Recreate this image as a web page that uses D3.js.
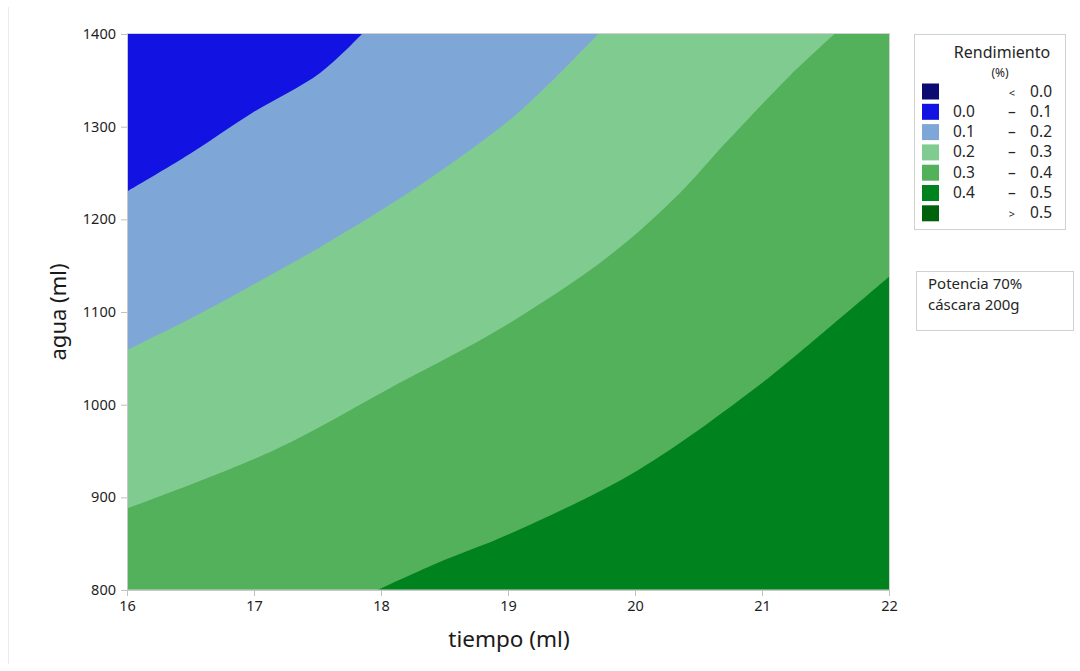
<!DOCTYPE html>
<html>
<head>
<meta charset="utf-8">
<script src="https://cdn.jsdelivr.net/npm/d3@7"></script>
<style>
  html, body { margin: 0; padding: 0; background: #fff; }
  svg { display: block; font-family: "Noto Sans", "Open Sans", sans-serif; }
</style>
</head>
<body>
<svg id="chart" width="1080" height="671"></svg>
<script>
// ---- Data ----
const xTicks = [16, 17, 18, 19, 20, 21, 22];
const yTicks = [800, 900, 1000, 1100, 1200, 1300, 1400];

// Contour boundaries (tiempo, agua)
const c00_tiempo = [16.00, 16.50, 17.00, 17.52, 17.85];
const c00_agua   = [1230, 1271, 1316, 1358, 1400];

const c01_tiempo = [16.00, 16.50, 17.00, 17.52, 18.05, 18.57, 19.09, 19.71];
const c01_agua   = [1059, 1093, 1130, 1170, 1214, 1262, 1316, 1400];

const c02_tiempo = [16.00, 17.16, 18.14, 18.95, 19.80, 20.35, 20.71, 21.22, 21.57];
const c02_agua   = [888, 951, 1023, 1083, 1161, 1228, 1282, 1355, 1400];

const c03_tiempo = [17.97, 18.44, 19.02, 20.02, 20.93, 21.38, 22.00];
const c03_agua   = [800, 829, 861, 929, 1016, 1066, 1138];

const legendLow  = ["", "0.0", "0.1", "0.2", "0.3", "0.4", ""];
const legendSep  = ["<", "–", "–", "–", "–", "–", ">"];
const legendHigh = ["0.0", "0.1", "0.2", "0.3", "0.4", "0.5", "0.5"];
const palette = ["#0b0b72", "#1212e2", "#7ea7d8", "#80cc90", "#53b05b", "#00821f", "#00620c"];

const infoLines = ["Potencia 70%", "cáscara 200g"];

// ---- Layout ----
const svg = d3.select("#chart");
const m = { left: 127, right: 889, top: 34, bottom: 590 };
const x = d3.scaleLinear().domain([16, 22]).range([m.left, m.right]);
const y = d3.scaleLinear().domain([800, 1400]).range([m.bottom, m.top]);

// left faint page border
svg.append("line").attr("x1", 8.5).attr("x2", 8.5).attr("y1", 7).attr("y2", 664)
  .attr("stroke", "#ececec").attr("stroke-width", 1);

svg.append("clipPath").attr("id", "plotclip").append("rect")
  .attr("x", m.left).attr("y", m.top).attr("width", m.right - m.left).attr("height", m.bottom - m.top);

const g = svg.append("g").attr("clip-path", "url(#plotclip)");

// background level (0.4 - 0.5)
g.append("rect").attr("x", x(16)).attr("y", y(1400))
  .attr("width", x(22) - x(16)).attr("height", y(800) - y(1400)).attr("fill", palette[5]);

const line = d3.line().x(d => x(d[0])).y(d => y(d[1])).curve(d3.curveCatmullRom.alpha(0.5));
function zip(a, b) { return a.map((v, i) => [v, b[i]]); }
function regionPath(pts, corners) {
  return line(pts) + corners.map(c => "L" + x(c[0]) + "," + y(c[1])).join("") + "Z";
}

// 0.3 - 0.4 : above c03
g.append("path").attr("fill", palette[4])
  .attr("d", regionPath(zip(c03_tiempo, c03_agua), [[22, 1400], [16, 1400], [16, 800]]));
// 0.2 - 0.3 : above c02
g.append("path").attr("fill", palette[3])
  .attr("d", regionPath(zip(c02_tiempo, c02_agua), [[16, 1400]]));
// 0.1 - 0.2 : above c01
g.append("path").attr("fill", palette[2])
  .attr("d", regionPath(zip(c01_tiempo, c01_agua), [[16, 1400]]));
// 0.0 - 0.1 : above c00
g.append("path").attr("fill", palette[1])
  .attr("d", regionPath(zip(c00_tiempo, c00_agua), [[16, 1400]]));

// frame
svg.append("rect").attr("x", m.left + 0.5).attr("y", m.top - 0.5)
  .attr("width", m.right - m.left).attr("height", m.bottom - m.top + 0.5)
  .attr("fill", "none").attr("stroke", "#d2d2d2").attr("stroke-width", 1);

// axes
const xAxis = svg.append("g").attr("transform", `translate(0,${m.bottom})`)
  .call(d3.axisBottom(x).tickValues(xTicks).tickFormat(d3.format("d")).tickSize(6).tickPadding(5));
const yAxis = svg.append("g").attr("transform", `translate(${m.left},0)`)
  .call(d3.axisLeft(y).tickValues(yTicks).tickFormat(d3.format("d")).tickSize(6).tickPadding(5));
[xAxis, yAxis].forEach(a => {
  a.select(".domain").attr("stroke", "#c8c8c8");
  a.selectAll(".tick line").attr("stroke", "#c0c0c0");
  a.selectAll(".tick text").attr("fill", "#1e1e1e")
    .style("font-family", "'Noto Sans', sans-serif").style("font-size", "14.5px");
});

// axis titles
svg.append("text").attr("x", 509).attr("y", 647).attr("text-anchor", "middle")
  .attr("fill", "#1a1a1a").style("font-size", "22.5px").text("tiempo (ml)");
svg.append("text").attr("transform", "translate(66,312) rotate(-90)").attr("text-anchor", "middle")
  .attr("fill", "#1a1a1a").style("font-size", "22px").text("agua (ml)");

// legend
const lg = svg.append("g");
lg.append("rect").attr("x", 914.5).attr("y", 34.5).attr("width", 151).attr("height", 195)
  .attr("fill", "#fff").attr("stroke", "#d0d0d0");
lg.append("text").attr("x", 1002).attr("y", 58).attr("text-anchor", "middle")
  .attr("fill", "#262626").style("font-size", "16px").text("Rendimiento");
lg.append("text").attr("x", 1000).attr("y", 77).attr("text-anchor", "middle")
  .attr("fill", "#262626").style("font-size", "12px").text("(%)");
const rows = lg.selectAll("g.row").data(palette).enter().append("g")
  .attr("transform", (d, i) => `translate(0,${91.5 + i * 20.3})`);
rows.append("rect").attr("x", 922).attr("y", -8).attr("width", 17).attr("height", 16)
  .attr("fill", d => d);
rows.append("text").attr("x", 953).attr("y", 5).attr("fill", "#262626")
  .style("font-size", "15.5px").text((d, i) => legendLow[i]);
rows.append("text").attr("x", 1012).attr("y", 5).attr("text-anchor", "middle").attr("fill", "#262626")
  .style("font-size", (d, i) => (i === 0 || i === 6) ? "11px" : "15.5px").text((d, i) => legendSep[i]);
rows.append("text").attr("x", 1052).attr("y", 5).attr("text-anchor", "end").attr("fill", "#262626")
  .style("font-size", "15.5px").text((d, i) => legendHigh[i]);

// info box
const ib = svg.append("g");
ib.append("rect").attr("x", 916.5).attr("y", 271.5).attr("width", 157).attr("height", 59)
  .attr("fill", "#fff").attr("stroke", "#d0d0d0");
ib.selectAll("text").data(infoLines).enter().append("text")
  .attr("x", 928).attr("y", (d, i) => 289 + i * 20.5).attr("fill", "#262626")
  .style("font-size", "15px").text(d => d);
</script>
</body>
</html>
